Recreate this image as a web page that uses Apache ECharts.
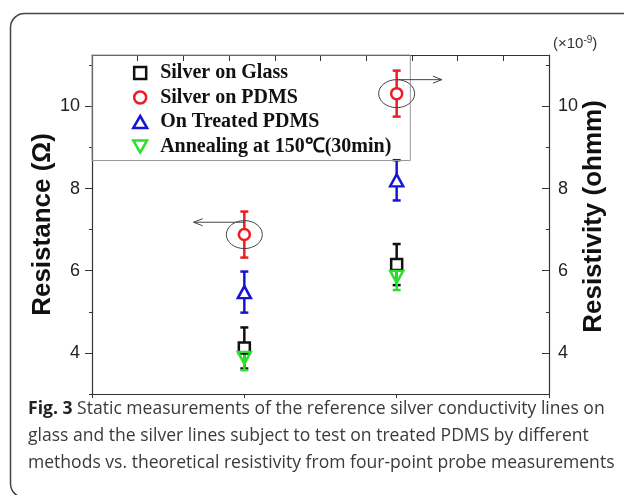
<!DOCTYPE html>
<html>
<head>
<meta charset="utf-8">
<title>Fig. 3</title>
<script src="https://cdn.jsdelivr.net/npm/echarts@6/dist/echarts.min.js"></script>
<style>
  html, body { margin: 0; padding: 0; background: #fff; }
  #chart { width: 624px; height: 495px; }
</style>
</head>
<body>
<div id="chart"></div>
<script>
// data
const xPositions = [1, 2]
const seriesNames = ['Silver on Glass', 'Silver on PDMS', 'On Treated PDMS', 'Annealing at 150℃(30min)']
const glassValues = [4.12, 6.15]
const glassErrors = [0.5, 0.5]
const pdmsValues = [6.88, 10.31]
const pdmsErrors = [0.56, 0.56]
const treatedValues = [5.48, 8.2]
const treatedErrors = [0.5, 0.49]
const annealValues = [3.88, 5.85]
const annealErrors = [0.3, 0.32]

// tick values
const yMajorTicks = [4, 6, 8, 10]
const yMinorTicks = [3, 5, 7, 9, 11]
const xBottomTicks = [0, 1, 2, 3]
const xTopTicks = [0.3, 0.6, 0.9, 1.2, 1.5, 1.8, 2.1, 2.4, 2.7]

// circled points and arrows pointing to their axis
const arrowY = [7.18, 10.65]
const arrowTipX = [0.667, 2.297]

const captionLines = [
  'Static measurements of the reference silver conductivity lines on',
  'glass and the silver lines subject to test on treated PDMS by different',
  'methods vs. theoretical resistivity from four-point probe measurements'
]

const colors = ['#111111', '#ee1c24', '#1515d6', '#2ee02e']
const icons = [
  'path://M0,0 L10,0 L10,10 L0,10 Z',
  'circle',
  'path://M5,0 L10,8.66 L0,8.66 Z',
  'path://M0,0 L10,0 L5,8.66 Z'
]
const fills = ['#ffffff', '#ffffff', '#ffffff', 'rgba(255,255,255,0)']
const valueSets = [glassValues, pdmsValues, treatedValues, annealValues]
const errorSets = [glassErrors, pdmsErrors, treatedErrors, annealErrors]
const symbolSizes = [11, 11, [13, 12], [13, 12]]

const axisColor = '#333'
const sansFont = 'Liberation Sans, Arial, sans-serif'
const captionFont = '18px Open Sans, sans-serif'

function errorBars(i) {
  const color = colors[i]
  return {
    type: 'custom',
    name: 'err' + i,
    z: 2,
    encode: { x: 0, y: 1 },
    data: xPositions.map((x, k) => [x, valueSets[i][k], errorSets[i][k]]),
    renderItem(params, api) {
      const x = api.value(0), v = api.value(1), e = api.value(2)
      const top = api.coord([x, v + e])
      const bot = api.coord([x, v - e])
      const w = 4
      const st = { stroke: color, lineWidth: 2.5 }
      return {
        type: 'group',
        children: [
          { type: 'line', shape: { x1: top[0], y1: top[1], x2: bot[0], y2: bot[1] }, style: st },
          { type: 'line', shape: { x1: top[0] - w, y1: top[1], x2: top[0] + w, y2: top[1] }, style: st },
          { type: 'line', shape: { x1: bot[0] - w, y1: bot[1], x2: bot[0] + w, y2: bot[1] }, style: st }
        ]
      }
    }
  }
}

function markers(i) {
  return {
    type: 'scatter',
    name: seriesNames[i],
    z: 3,
    symbol: icons[i],
    symbolSize: symbolSizes[i],
    itemStyle: { color: fills[i], borderColor: colors[i], borderWidth: 2.5, opacity: 1 },
    emphasis: { disabled: true },
    data: xPositions.map((x, k) => [x, valueSets[i][k]])
  }
}

const series = []
for (let i = 0; i < 4; i++) {
  series.push(errorBars(i))
  series.push(markers(i))
}

series.push({
  type: 'custom',
  name: 'notes',
  z: 4,
  encode: { x: 0, y: 1 },
  data: xPositions.map((x, k) => [x, pdmsValues[k], arrowY[k], arrowTipX[k]]),
  renderItem(params, api) {
    const c = api.coord([api.value(0), api.value(1)])
    const a0 = api.coord([api.value(0), api.value(2)])
    const a1 = api.coord([api.value(3), api.value(2)])
    const dir = a1[0] > a0[0] ? 1 : -1
    const st = { fill: 'none', stroke: '#444', lineWidth: 1 }
    return {
      type: 'group',
      children: [
        { type: 'ellipse', shape: { cx: c[0], cy: c[1], rx: 18, ry: 14 }, style: st },
        { type: 'line', shape: { x1: a0[0], y1: a0[1], x2: a1[0], y2: a1[1] }, style: st },
        {
          type: 'polyline',
          shape: { points: [[a1[0] - dir * 9, a1[1] - 3.5], [a1[0], a1[1]], [a1[0] - dir * 9, a1[1] + 3.5]] },
          style: st
        }
      ]
    }
  }
})

const valueAxisBase = {
  type: 'value',
  min: 3,
  max: 11.25,
  splitLine: { show: false }
}

const option = {
  animation: false,
  backgroundColor: '#fff',
  grid: { left: 92, right: 75, top: 55, bottom: 101, outerBoundsMode: 'none' },
  xAxis: [
    {
      type: 'value', position: 'bottom', min: 0, max: 3,
      axisLine: { show: true, lineStyle: { color: axisColor, width: 1.2 } },
      axisTick: { show: true, customValues: xBottomTicks, length: 4, lineStyle: { color: axisColor } },
      axisLabel: { show: false },
      splitLine: { show: false }
    },
    {
      type: 'value', position: 'top', min: 0, max: 3,
      axisLine: { show: true, lineStyle: { color: axisColor, width: 1.2 } },
      axisTick: { show: true, inside: true, customValues: xTopTicks, length: 6, lineStyle: { color: axisColor } },
      axisLabel: { show: false },
      splitLine: { show: false }
    }
  ],
  yAxis: [
    {
      ...valueAxisBase, position: 'left',
      axisLine: { show: true, lineStyle: { color: axisColor, width: 1.2 } },
      axisTick: { show: true, customValues: yMajorTicks, length: 7, lineStyle: { color: axisColor } },
      axisLabel: { customValues: yMajorTicks, margin: 12, fontSize: 18, fontFamily: sansFont, color: '#222' },
      name: 'Resistance (Ω)',
      nameLocation: 'middle',
      nameRotate: 90,
      nameGap: 36,
      nameMoveOverlap: false,
      nameTextStyle: { fontSize: 26, fontWeight: 'bold', fontFamily: sansFont, color: '#111' }
    },
    {
      ...valueAxisBase, position: 'left',
      axisLine: { show: false },
      axisTick: { show: true, customValues: yMinorTicks, length: 3, lineStyle: { color: axisColor } },
      axisLabel: { show: false }
    },
    {
      ...valueAxisBase, position: 'right',
      axisLine: { show: true, lineStyle: { color: axisColor, width: 1.2 } },
      axisTick: { show: true, inside: true, customValues: yMajorTicks, length: 7, lineStyle: { color: axisColor } },
      axisLabel: { customValues: yMajorTicks, margin: 9, fontSize: 18, fontFamily: sansFont, color: '#222' },
      name: 'Resistivity (ohmm)',
      nameLocation: 'middle',
      nameRotate: 90,
      nameGap: 32,
      nameMoveOverlap: false,
      nameTextStyle: { fontSize: 26, fontWeight: 'bold', fontFamily: sansFont, color: '#111', padding: [0, 0, 0, 16] }
    },
    {
      ...valueAxisBase, position: 'right',
      axisLine: { show: false },
      axisTick: { show: true, inside: true, customValues: yMinorTicks, length: 3, lineStyle: { color: axisColor } },
      axisLabel: { show: false }
    }
  ],
  legend: {
    orient: 'vertical',
    left: 92,
    top: 55,
    selectedMode: false,
    data: seriesNames.map((n, i) => ({
      name: n,
      icon: icons[i],
      itemStyle: { color: '#fff', borderColor: colors[i], borderWidth: 2.5 }
    })),
    itemWidth: 30,
    itemHeight: 12,
    itemGap: 4.5,
    padding: [8, 19, 4, 40],
    borderColor: '#999',
    borderWidth: 1,
    backgroundColor: 'rgba(255,255,255,0)',
    textStyle: { fontFamily: 'Liberation Serif, Times New Roman, serif', fontWeight: 'bold', fontSize: 20, color: '#111' }
  },
  graphic: [
    {
      type: 'rect',
      shape: { x: 10.5, y: 13.5, width: 700, height: 484, r: 14 },
      style: { fill: 'none', stroke: '#444', lineWidth: 1.5 },
      silent: true
    },
    {
      type: 'text',
      x: 553, y: 44,
      style: {
        text: '(×10{sup|-9})',
        verticalAlign: 'middle',
        font: '15px ' + sansFont,
        fill: '#333',
        rich: { sup: { fontSize: 10, verticalAlign: 'top', padding: [0, 0, 8, 0], fill: '#333' } }
      }
    },
    {
      type: 'text',
      x: 28, y: 409, scaleX: 0.975,
      style: {
        text: '{b|Fig. 3} ' + captionLines[0],
        verticalAlign: 'middle',
        font: captionFont,
        fill: '#3a3a3a',
        rich: { b: { fontWeight: 'bold', fontSize: 18, fontFamily: 'Open Sans, sans-serif', fill: '#222' } }
      }
    },
    {
      type: 'text',
      x: 28, y: 436, scaleX: 0.975,
      style: { text: captionLines[1], verticalAlign: 'middle', font: captionFont, fill: '#3a3a3a' }
    },
    {
      type: 'text',
      x: 28, y: 463, scaleX: 0.975,
      style: { text: captionLines[2], verticalAlign: 'middle', font: captionFont, fill: '#3a3a3a' }
    }
  ],
  series
}

const chart = echarts.init(document.getElementById('chart'))
chart.setOption(option)

window.addEventListener('resize', () => {
  chart.resize()
})
</script>
</body>
</html>
